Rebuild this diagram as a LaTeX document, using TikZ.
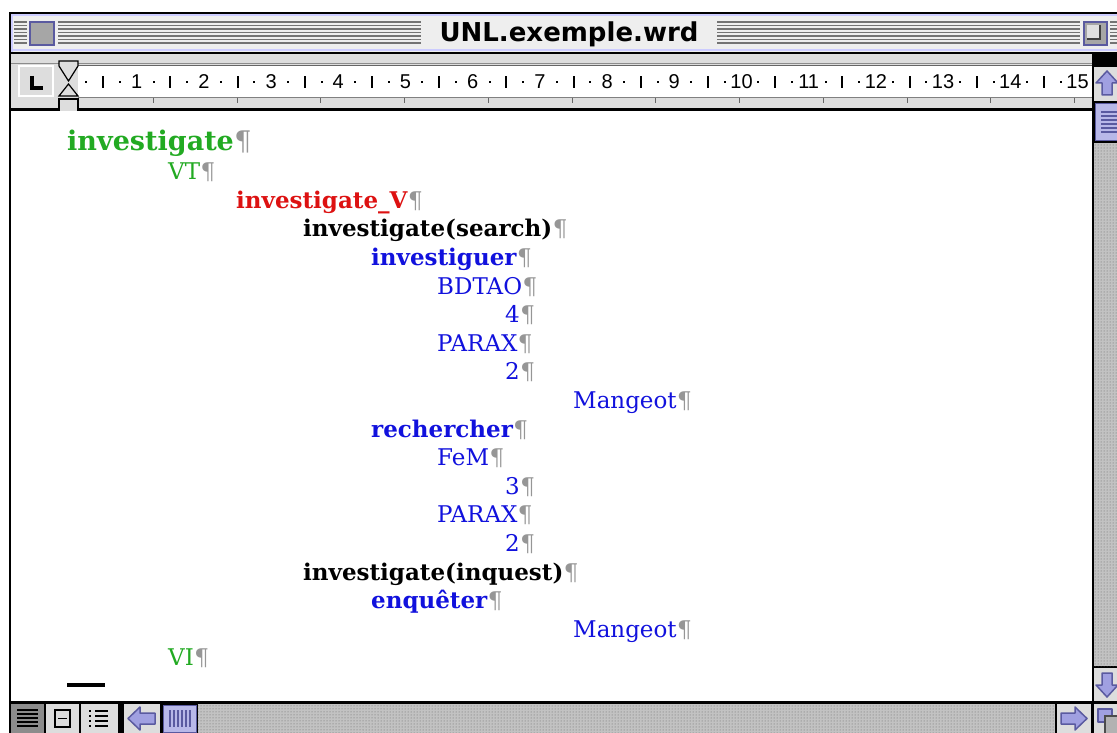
\documentclass[tikz,border=0pt]{standalone}
\usepackage{fontspec}
\setmainfont{DejaVu Serif}
\newfontfamily\titlefont{DejaVu Sans}
\newfontfamily\rulerfont{Liberation Sans}
\usetikzlibrary{patterns}
\definecolor{unlgreen}{RGB}{34,170,34}
\definecolor{unlred}{RGB}{221,17,17}
\definecolor{unlblue}{RGB}{17,17,221}
\definecolor{pilgray}{RGB}{150,150,150}
\definecolor{chrome}{RGB}{221,221,221}
\definecolor{titlegray}{RGB}{238,238,238}
\definecolor{lavender}{RGB}{204,204,255}
\definecolor{lavdark}{RGB}{90,90,160}
\definecolor{arrowlav}{RGB}{160,160,225}
\newcommand{\pilc}{\hspace{0.5pt}{\mdseries\color{pilgray}¶}}
\tikzstyle{headword} = [anchor=base west, inner sep=0pt,
font=\bfseries\fontsize{27}{30}\selectfont, text=unlgreen]
\tikzstyle{category} = [anchor=base west, inner sep=0pt,
font=\fontsize{23}{26}\selectfont, text=unlgreen]
\tikzstyle{unlword} = [anchor=base west, inner sep=0pt,
font=\bfseries\fontsize{23}{26}\selectfont, text=unlred]
\tikzstyle{gloss} = [anchor=base west, inner sep=0pt,
font=\bfseries\fontsize{23}{26}\selectfont, text=black]
\tikzstyle{equiv} = [anchor=base west, inner sep=0pt,
font=\bfseries\fontsize{23}{26}\selectfont, text=unlblue]
\tikzstyle{info} = [anchor=base west, inner sep=0pt,
font=\fontsize{23}{26}\selectfont, text=unlblue]
\tikzstyle{rulenum} = [inner sep=0pt, font=\rulerfont\fontsize{20}{21}\selectfont]
\tikzstyle{stripe} = [draw=black!55, line width=1.2pt]
\tikzstyle{btn} = [fill=chrome]
\tikzstyle{lavarrow} = [fill=arrowlav, draw=lavdark, line width=1.5pt, line join=round]
\tikzstyle{thumb} = [fill=arrowlav!75, draw=lavdark, line width=1pt]
\tikzstyle{grain} = [pattern=dots, pattern color=black!60]

\begin{document}
\begin{tikzpicture}[x=1pt, y=-1pt]
\clip (0,0) rectangle (1117,733);
\fill[white] (0,0) rectangle (1117,733);
\fill[black] (9,12) rectangle (1117,733);

% title bar
\fill[titlegray] (11,14) rectangle (1117,52);
\draw[lavender, line width=2pt] (11,15) -- (1117,15);
\draw[lavender, line width=2pt] (11,50.5) -- (1117,50.5);
\draw[lavender, line width=2pt] (12,14) -- (12,52);
\foreach \yy in {22,25.5,...,43}{
\draw[stripe] (14,\yy) -- (27,\yy);
\draw[stripe] (58,\yy) -- (421,\yy);
\draw[stripe] (717,\yy) -- (1080,\yy);
\draw[stripe] (1110,\yy) -- (1117,\yy);
}
\draw[fill=black!35, draw=lavdark, line width=2pt] (30,22) rectangle (54,45);
\draw[fill=black!35, draw=lavdark, line width=2pt] (1084,22) rectangle (1107,45);
\fill[black!12] (1087,25) rectangle (1100,39);
\draw[black!75, line width=1.5pt] (1100,25) -- (1100,39) -- (1087,39);
\node(title)[font=\titlefont\bfseries\fontsize{26}{28}\selectfont] at (569,34) {UNL.exemple.wrd};

% ruler
\fill[chrome] (11,54) rectangle (1092,108);
\draw[black!45, line width=1pt] (11,64) -- (1092,64);
\fill[white] (78,66) rectangle (1092,97);
\draw[black!60, line width=1pt] (78,66) -- (1092,66);
\draw[black!50, line width=1pt] (78,98) -- (1092,98);
\foreach \k in {1,...,12}
\draw[black!60, line width=1pt] ({69.5+83.75*\k},98) -- ({69.5+83.75*\k},103);
\foreach \n in {0,...,14}{
\fill ({69.5+67.2*(\n+0.25)-1},81) rectangle ({69.5+67.2*(\n+0.25)+1},83);
\fill ({69.5+67.2*(\n+0.5)-1},76) rectangle ({69.5+67.2*(\n+0.5)+1},88);
\fill ({69.5+67.2*(\n+0.75)-1},81) rectangle ({69.5+67.2*(\n+0.75)+1},83);
\pgfmathtruncatemacro\m{\n+1}
\node(num\m)[rulenum] at ({69.5+67.2*(\n+1)},82) {\m};
}
\draw[btn, draw=white, line width=1.5pt] (19,66) rectangle (53,96);
\draw[line width=4pt] (32,76) -- (32,88.5) -- (43,88.5);
\draw[fill=chrome, line width=1.2pt] (59,61) -- (78,61) -- (78,66) -- (68.5,81) -- (59,66) -- cycle;
\draw[fill=chrome, line width=1.2pt] (68.5,84) -- (78,96) -- (59,96) -- cycle;
\draw[fill=chrome, line width=1.2pt] (59,99) rectangle (78,112);

% page
\fill[white] (11,111) rectangle (1092,701);
\node(inv)[headword] at (67,151) {investigate\pilc};
\node(vt)[category] at (168,179.6) {VT\pilc};
\node(invv)[unlword] at (236,208.2) {investigate\_V\pilc};
\node(invsearch)[gloss] at (303,236.8) {investigate(search)\pilc};
\node(investiguer)[equiv] at (371,265.4) {investiguer\pilc};
\node(bdtao)[info] at (437,294) {BDTAO\pilc};
\node(bdtaonum)[info] at (505,322.6) {4\pilc};
\node(paraxa)[info] at (437,351.2) {PARAX\pilc};
\node(paraxanum)[info] at (505,379.8) {2\pilc};
\node(mangeota)[info] at (573,408.4) {Mangeot\pilc};
\node(rechercher)[equiv] at (371,437) {rechercher\pilc};
\node(fem)[info] at (437,465.6) {FeM\pilc};
\node(femnum)[info] at (505,494.2) {3\pilc};
\node(paraxb)[info] at (437,522.8) {PARAX\pilc};
\node(paraxbnum)[info] at (505,551.4) {2\pilc};
\node(invinquest)[gloss] at (303,580) {investigate(inquest)\pilc};
\node(enqueter)[equiv] at (371,608.6) {enquêter\pilc};
\node(mangeotb)[info] at (573,637.2) {Mangeot\pilc};
\node(vi)[category] at (168,665.8) {VI\pilc};
\fill (67,683) rectangle (105,687);

% vertical scroll bar
\fill[btn] (1094,67) rectangle (1117,101);
\draw[lavarrow] (1107,71) -- (1118,83) -- (1112,83) -- (1112,95) -- (1102,95) -- (1102,83) -- (1096,83) -- cycle;
\draw[thumb] (1095,104) rectangle (1118,141);
\foreach \yy in {112,116,...,132}
\draw[lavdark, line width=1.2pt] (1101,\yy) -- (1117,\yy);
\fill[black!24] (1094,143) rectangle (1117,666);
\fill[grain] (1094,143) rectangle (1117,666);
\fill[btn] (1094,668) rectangle (1117,701);
\draw[lavarrow] (1107,697) -- (1118,685) -- (1112,685) -- (1112,673) -- (1102,673) -- (1102,685) -- (1096,685) -- cycle;
\fill[btn] (1094,704) rectangle (1117,733);
\draw[lavarrow] (1098,709) rectangle (1112,722);
\draw[fill=black!30, draw=black!70, line width=1.5pt] (1105,716) rectangle (1120,735);

% horizontal scroll bar
\fill[black!45] (11,704) rectangle (44,733);
\foreach \yy in {710,714,...,726}
\draw[line width=1.5pt] (17,\yy) -- (38,\yy);
\fill[btn] (46,704) rectangle (79,733);
\draw[line width=1.5pt] (55,710) rectangle (70,727);
\draw[line width=1.5pt] (58,718.5) -- (67,718.5);
\fill[btn] (81,704) rectangle (118,733);
\foreach \yy in {710,715,720,725}{
\fill (89,\yy) rectangle (91,\yy+2);
\draw[line width=1.2pt] (95,\yy+1) -- (108,\yy+1);
}
\fill[btn] (124,704) rectangle (160,733);
\draw[lavarrow] (128,718.5) -- (140,707) -- (140,713) -- (155,713) -- (155,724) -- (140,724) -- (140,730) -- cycle;
\draw[thumb] (163,705) rectangle (196,732);
\foreach \xx in {170,174,...,190}
\draw[lavdark, line width=1.2pt] (\xx,710) -- (\xx,727);
\fill[black!24] (198,704) rectangle (1055,733);
\fill[grain] (198,704) rectangle (1055,733);
\fill[btn] (1057,704) rectangle (1091,733);
\draw[lavarrow] (1087,718.5) -- (1075,707) -- (1075,713) -- (1061,713) -- (1061,724) -- (1075,724) -- (1075,730) -- cycle;
\end{tikzpicture}
\end{document}
